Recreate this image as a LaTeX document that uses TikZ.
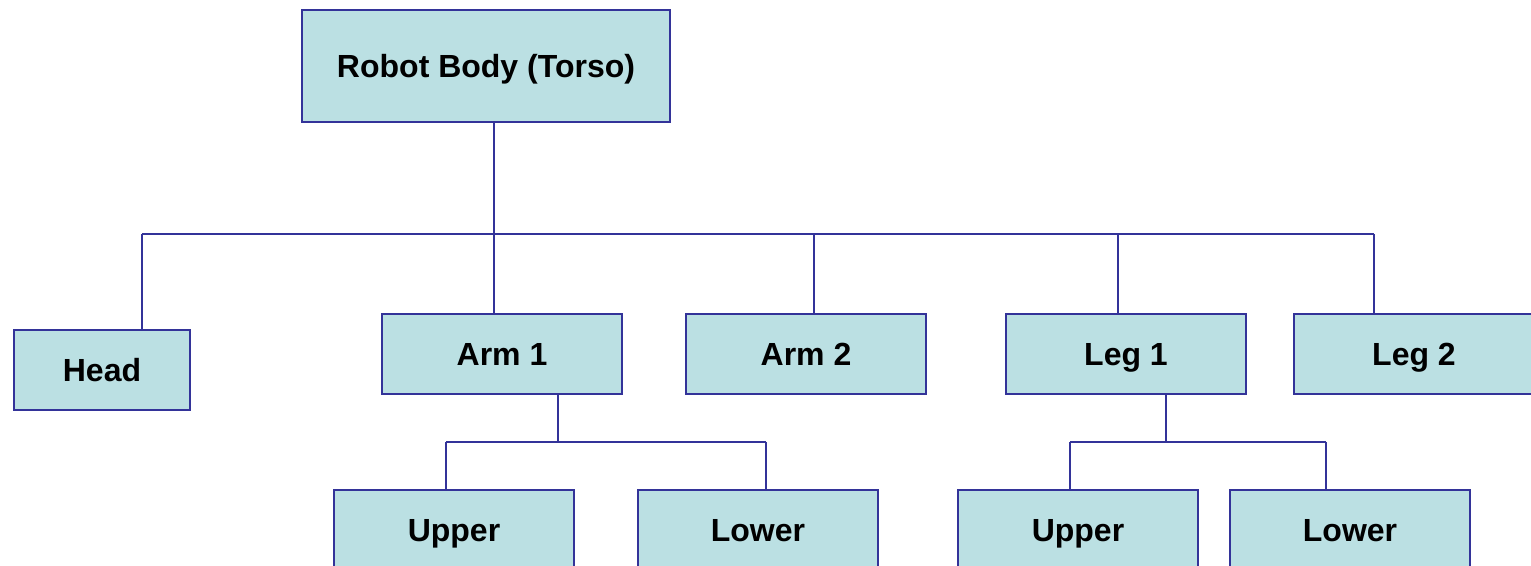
\documentclass[tikz,border=0pt]{standalone}
\usepackage{fontspec}
\setmainfont{Liberation Sans}
\definecolor{boxfill}{HTML}{BBE0E3}
\definecolor{boxline}{HTML}{333399}
\begin{document}
\begin{tikzpicture}[x=0.5pt,y=-0.5pt,
  box/.style={draw=boxline,fill=boxfill,line width=0.75pt,rectangle,inner sep=0pt,
    text height=11.5pt,text depth=0pt,
    minimum width=120pt,minimum height=40pt,font=\fontsize{16}{19}\selectfont\bfseries},
  conn/.style={draw=boxline,line width=0.7pt}]
\useasboundingbox (0,0) rectangle (1531,566);
\clip (0,0) rectangle (1531,566);
\node[box,minimum width=184pt,minimum height=56pt] (torso) at (486,66) {Robot Body (Torso)};
\node[box,minimum width=88pt] (head) at (102,370) {Head};
\node[box] (arm1) at (502,354) {Arm 1};
\node[box] (arm2) at (806,354) {Arm 2};
\node[box] (leg1) at (1126,354) {Leg 1};
\node[box] (leg2) at (1414,354) {Leg 2};
\node[box] (aup) at (454,530) {Upper};
\node[box] (alow) at (758,530) {Lower};
\node[box] (lup) at (1078,530) {Upper};
\node[box] (llow) at (1350,530) {Lower};
% bus coordinates
\coordinate (bus) at (494,234);
\coordinate (jH) at (142,234);
\coordinate (jA2) at (814,234);
\coordinate (jL1) at (1118,234);
\coordinate (jL2) at (1374,234);
\coordinate (abus) at (558,442);
\coordinate (jAU) at (446,442);
\coordinate (jAL) at (766,442);
\coordinate (lbus) at (1166,442);
\coordinate (jLU) at (1070,442);
\coordinate (jLL) at (1326,442);
\draw[conn] (torso.south -| bus) -- (bus);
\draw[conn] (jH) -- (jL2);
\draw[conn] (jH) -- (jH |- head.north);
\draw[conn] (bus) -- (bus |- arm1.north);
\draw[conn] (jA2) -- (jA2 |- arm2.north);
\draw[conn] (jL1) -- (jL1 |- leg1.north);
\draw[conn] (jL2) -- (jL2 |- leg2.north);
\draw[conn] (arm1.south -| abus) -- (abus);
\draw[conn] (jAU) -- (jAL);
\draw[conn] (jAU) -- (jAU |- aup.north);
\draw[conn] (jAL) -- (jAL |- alow.north);
\draw[conn] (leg1.south -| lbus) -- (lbus);
\draw[conn] (jLU) -- (jLL);
\draw[conn] (jLU) -- (jLU |- lup.north);
\draw[conn] (jLL) -- (jLL |- llow.north);
\end{tikzpicture}
\end{document}
